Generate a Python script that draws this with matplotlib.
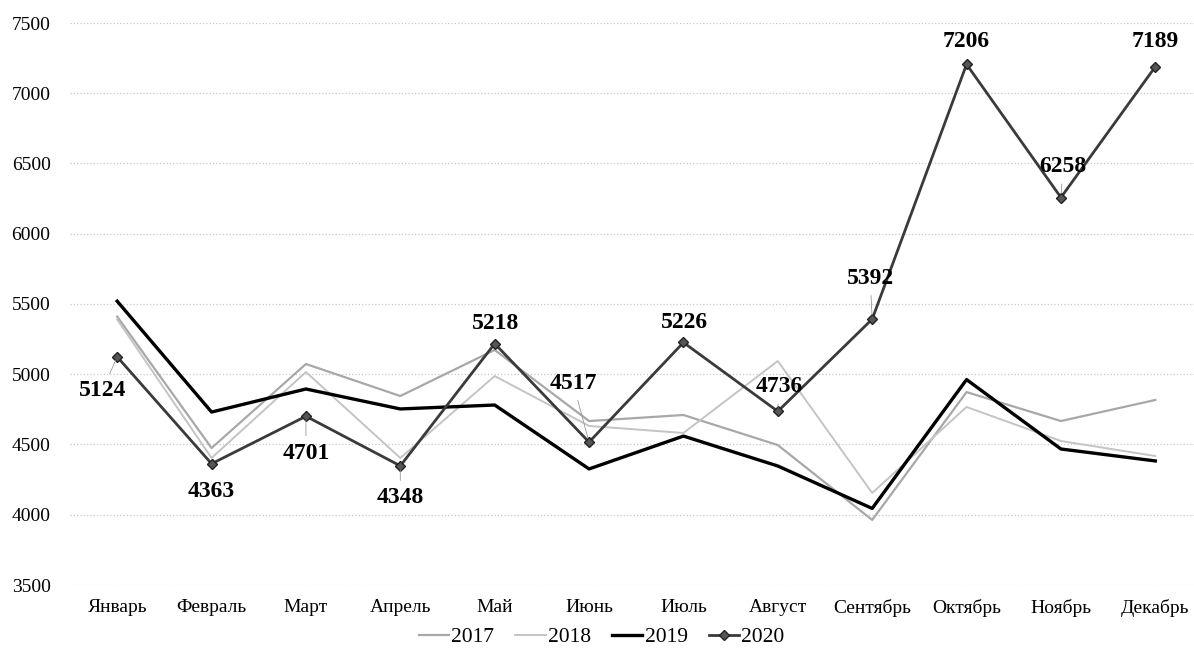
import numpy as np
import matplotlib
matplotlib.use('Agg')
import matplotlib.pyplot as plt

plt.rcParams['font.family'] = ['Liberation Serif', 'DejaVu Serif']

# Months (x categories)
months = ['Январь', 'Февраль', 'Март', 'Апрель', 'Май', 'Июнь',
          'Июль', 'Август', 'Сентябрь', 'Октябрь', 'Ноябрь', 'Декабрь']

# Values
y2017 = [5410, 4475, 5073, 4845, 5173, 4667, 4710, 4496, 3963, 4873, 4667, 4817]
y2018 = [5390, 4404, 5016, 4404, 4987, 4632, 4582, 5094, 4155, 4767, 4525, 4418]
y2019 = [5520, 4731, 4895, 4753, 4781, 4326, 4560, 4347, 4045, 4962, 4468, 4383]
y2020 = [5124, 4363, 4701, 4348, 5218, 4517, 5226, 4736, 5392, 7206, 6258, 7189]

# label offsets (pixels) for the 2020 data labels
label_dx = [-15, 0, 0, 0, 1, -16, 1, 1, -2, 0, 2, 0]
label_dy = [-34, -28, -37, -32, 20, 59, 20, 25, 41, 23, 31, 25]
leader = [True, False, True, True, False, True, False, True, True, False, True, False]

x = np.arange(len(months))

fig = plt.figure(figsize=(11.94, 6.53), dpi=100)
ax = fig.add_axes([70 / 1194, 68 / 653, 1 - 70 / 1194, 1 - 68 / 653 - 23 / 653])

ax.plot(x, y2017, color='#a8a8a8', lw=1.6, label='2017', zorder=2)
ax.plot(x, y2018, color='#c4c4c4', lw=1.4, label='2018', zorder=2)
ax.plot(x, y2019, color='black', lw=2.4, label='2019', zorder=3)
ax.plot(x, y2020, color='#3a3a3a', lw=2.0, marker='D', ms=5,
        mfc='#555555', mec='#222222', label='2020', zorder=4)

for i, v in enumerate(y2020):
    props = dict(arrowstyle='-', color='#999999', lw=0.6, shrinkA=3, shrinkB=3) if leader[i] else None
    ax.annotate(str(v), (x[i], v), xytext=(label_dx[i], label_dy[i]),
                textcoords='offset pixels', ha='center', va='center',
                fontsize=17, fontweight='bold', arrowprops=props, zorder=5)

ax.set_xlim(-0.5, 11.41)
ax.set_ylim(3500, 7500)
ax.set_yticks(np.arange(3500, 7501, 500))
ax.set_xticks(x)
ax.set_xticklabels(months)
ax.tick_params(axis='both', length=0, labelsize=14)
ax.tick_params(axis='y', pad=14)
ax.tick_params(axis='x', pad=10)
ax.grid(axis='y', color='#c8c8c8', ls=':', lw=0.9)
ax.set_axisbelow(True)
for s in ax.spines.values():
    s.set_visible(False)

ax.legend(loc='center', bbox_to_anchor=(0.473, -0.093), ncol=4, frameon=False,
          fontsize=15.5, handlelength=1.4, handletextpad=0.1, columnspacing=1.0,
          borderpad=0.2)

fig.savefig('out.png', dpi=100)
